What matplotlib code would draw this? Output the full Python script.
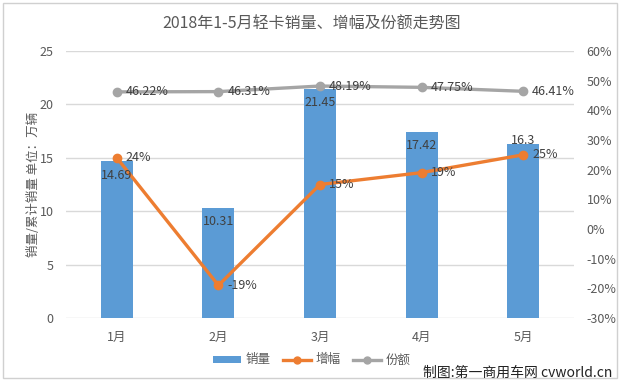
import matplotlib
matplotlib.use("Agg")
import matplotlib.pyplot as plt
from matplotlib.lines import Line2D
from matplotlib.patches import Patch, Rectangle
from matplotlib.ticker import FuncFormatter
import numpy as np

plt.rcParams['font.family'] = ['Noto Sans CJK SC', 'DejaVu Sans']

months = ['1月', '2月', '3月', '4月', '5月']
sales = [14.69, 10.31, 21.45, 17.42, 16.3]
growth = [24, -19, 15, 19, 25]
share = [46.22, 46.31, 48.19, 47.75, 46.41]
sales_labels = ['14.69', '10.31', '21.45', '17.42', '16.3']

blue = '#5b9bd5'
orange = '#ed7d31'
gray = '#a5a5a5'
txt = '#595959'
lbl = '#404040'

fig = plt.figure(figsize=(6.24, 3.84), dpi=100)
fig.patch.set_facecolor('white')
# chart border
fig.add_artist(Rectangle((3/624, 1-378/384), 614/624, 375/384, transform=fig.transFigure,
                         fill=False, edgecolor='#d0d0d0', lw=1))

ax = fig.add_axes([66/624, 1-318/384, 508/624, 267/384])
x = np.arange(len(months))
ax.bar(x, sales, width=0.315, color=blue, zorder=2)
ax.set_xlim(-0.5, len(months)-0.5)
ax.set_ylim(0, 25)
ax.set_yticks([0, 5, 10, 15, 20, 25])
ax.set_xticks(x)
ax.set_xticklabels(months)
for s in ax.spines.values():
    s.set_visible(False)
ax.tick_params(axis='both', length=0, colors=txt, labelsize=9)
ax.tick_params(axis='y', pad=9)
ax.tick_params(axis='x', pad=9)
ax.grid(axis='y', color='#d9d9d9', lw=1, zorder=0)
ax.set_axisbelow(True)
ax.set_ylabel('销量/累计销量 单位：万辆', color=txt, fontsize=9)
ax.yaxis.set_label_coords(-(66-40)/508, 0.5)

ax2 = ax.twinx()
ax2.set_ylim(-30, 60)
ax2.set_yticks(np.arange(-30, 61, 10))
ax2.yaxis.set_major_formatter(FuncFormatter(lambda v, p: f'{int(v)}%'))
for s in ax2.spines.values():
    s.set_visible(False)
ax2.tick_params(axis='y', length=0, colors=txt, labelsize=9, pad=9)

ax2.plot(x, growth, color=orange, lw=2.4, marker='o', ms=6, zorder=4)
ax2.plot(x, share, color=gray, lw=2.4, marker='o', ms=6, zorder=4)

offs = [-14, -14, -14, -14, 3]
for i, v in enumerate(sales):
    ax2.annotate(sales_labels[i], (x[i], v), xycoords=ax.transData, xytext=(0, offs[i]),
                 textcoords='offset pixels', ha='center', va='center', fontsize=9,
                 color=lbl, zorder=6)
for i in range(len(months)):
    ax2.annotate(f'{growth[i]}%', (x[i], growth[i]), xytext=(9, 0), textcoords='offset pixels',
                 ha='left', va='center', fontsize=9, color=lbl, zorder=6)
    ax2.annotate(f'{share[i]:.2f}%', (x[i], share[i]), xytext=(9, 0), textcoords='offset pixels',
                 ha='left', va='center', fontsize=9, color=lbl, zorder=6)

fig.text(0.5, 1-24/384, '2018年1-5月轻卡销量、增幅及份额走势图', ha='center', va='center',
         fontsize=11.5, color=txt)

handles = [Patch(facecolor=blue, edgecolor='none'),
           Line2D([], [], color=orange, lw=2.4, marker='o', ms=5),
           Line2D([], [], color=gray, lw=2.4, marker='o', ms=5)]
leg = fig.legend(handles, ['销量', '增幅', '份额'], loc='center', bbox_to_anchor=(312/624, 1-360/384),
                 ncol=3, frameon=False, fontsize=9, handlelength=2.2, handleheight=0.5,
                 columnspacing=1.0, handletextpad=0.4)
for t in leg.get_texts():
    t.set_color(txt)

fig.text(612/624, 1-373/384, '制图:第一商用车网 cvworld.cn', ha='right', va='center',
         fontsize=10, color='#222222')

fig.savefig('out.png', dpi=100)
